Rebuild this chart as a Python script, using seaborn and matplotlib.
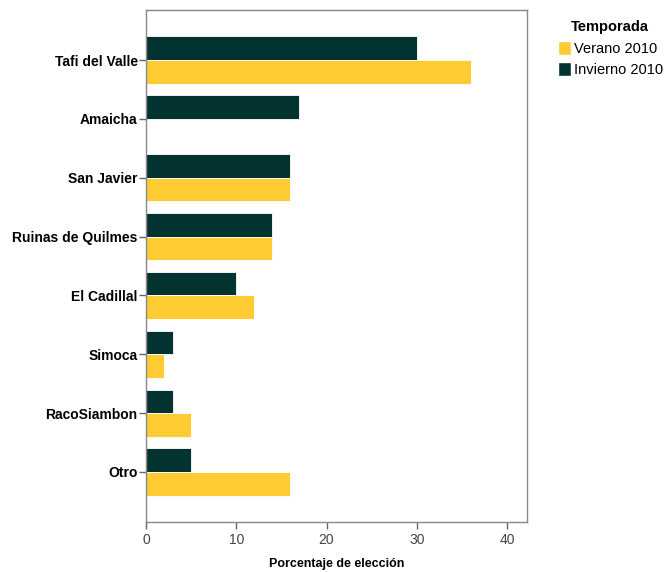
import matplotlib
matplotlib.use("Agg")
import matplotlib.pyplot as plt
import seaborn as sns
import pandas as pd
from matplotlib.patches import Patch

categorias = ["Tafi del Valle", "Amaicha", "San Javier", "Ruinas de Quilmes",
              "El Cadillal", "Simoca", "RacoSiambon", "Otro"]
invierno = [30, 17, 16, 14, 10, 3, 3, 5]
verano = [36, 0, 16, 14, 12, 2, 5, 16]
temporadas = ["Invierno 2010", "Verano 2010"]
colores = {"Invierno 2010": "#033331", "Verano 2010": "#FFCB33"}

df = pd.DataFrame({
    "lugar": categorias * 2,
    "pct": invierno + verano,
    "temporada": [temporadas[0]] * len(categorias) + [temporadas[1]] * len(categorias),
})

sns.set_style("white")
plt.rcParams["font.family"] = ["Liberation Sans", "DejaVu Sans"]
plt.rcParams["text.color"] = "black"

fig = plt.figure(figsize=(6.65, 5.72), dpi=100)
ax = fig.add_axes([0.2195, 0.0874, 0.573, 0.8951])

sns.barplot(data=df, y="lugar", x="pct", hue="temporada", hue_order=temporadas,
            order=categorias, palette=colores, orient="h", width=0.8, saturation=1,
            edgecolor="white", linewidth=0.6, legend=False, ax=ax)

ax.set_xlim(0, 42.2)
ax.set_ylim(7.85, -0.85)
ax.set_xticks([0, 10, 20, 30, 40])
ax.set_xlabel("Porcentaje de elección", fontsize=9, fontweight="bold",
              labelpad=8, color="black")
ax.set_ylabel("")
for s in ax.spines.values():
    s.set_color("#888888")
    s.set_linewidth(1)
ax.tick_params(axis="y", left=True, direction="out", length=5, width=1,
               color="#666666", labelsize=10, labelcolor="black", pad=1)
ax.tick_params(axis="x", bottom=True, direction="out", length=5, width=1,
               color="#666666", labelsize=10, labelcolor="#444444", pad=3)
for t in ax.get_yticklabels():
    t.set_fontweight("bold")

handles = [Patch(facecolor=colores["Verano 2010"], edgecolor="white", label="Verano 2010"),
           Patch(facecolor=colores["Invierno 2010"], edgecolor="white", label="Invierno 2010")]
leg = fig.legend(handles=handles, title="Temporada", loc="upper left",
                 bbox_to_anchor=(0.83, 0.975), frameon=False, fontsize=10.5,
                 handlelength=0.9, handleheight=1.1, handletextpad=0.2,
                 labelspacing=0.45, borderaxespad=0)
leg.get_title().set_fontweight("bold")
leg.get_title().set_fontsize(10.5)

fig.savefig("out.png", dpi=100)
